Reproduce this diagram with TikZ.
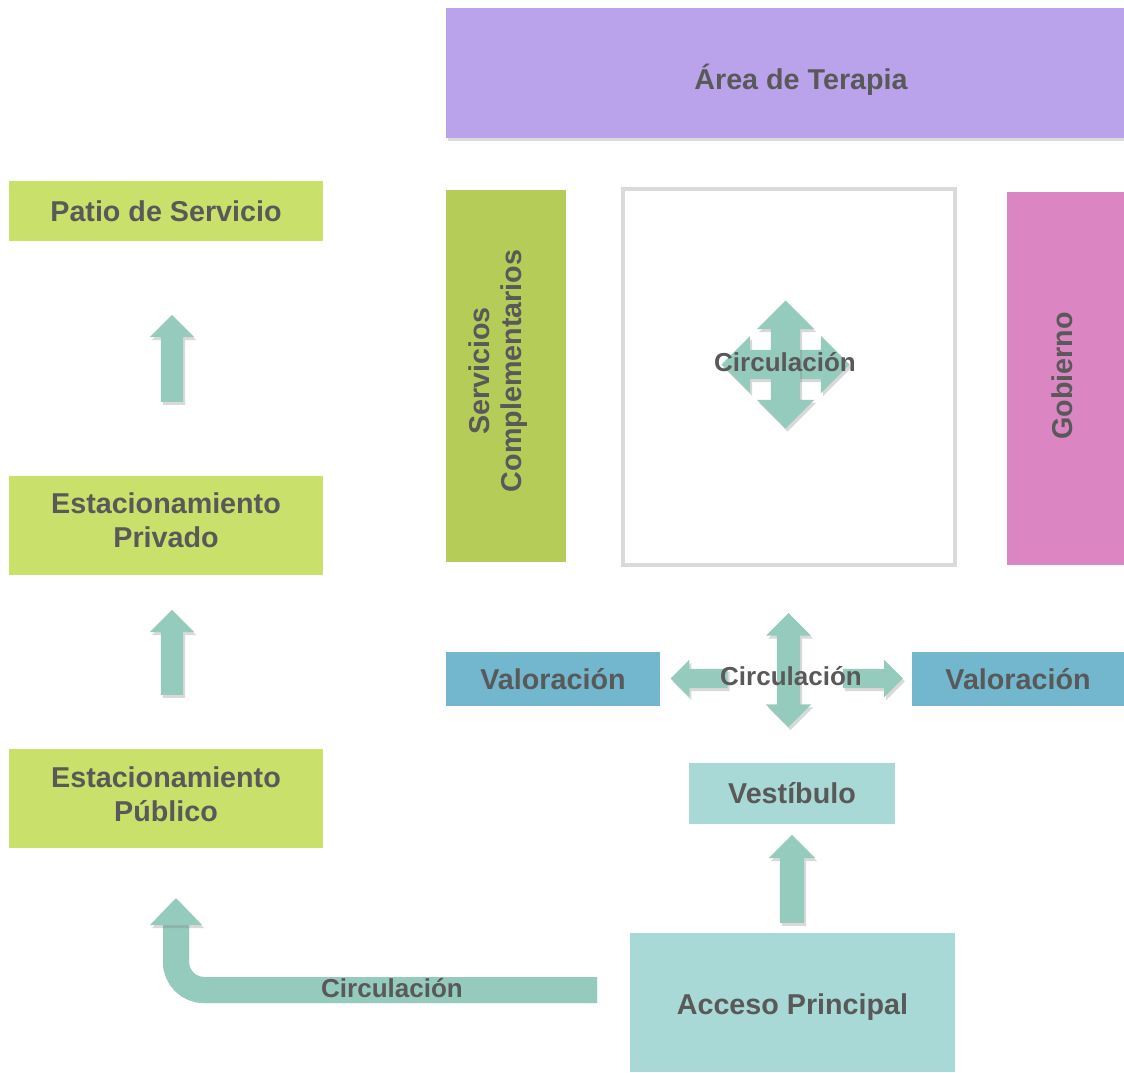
\documentclass[tikz,border=0pt]{standalone}
\usepackage{fontspec}
\setmainfont{Liberation Sans}
\usetikzlibrary{shapes.arrows}
\usetikzlibrary{shadows}
\definecolor{terapia}{HTML}{BBA3EC}
\definecolor{verdeclaro}{HTML}{C9E06B}
\definecolor{verdeoliva}{HTML}{B5CC58}
\definecolor{gobierno}{HTML}{DB86C2}
\definecolor{valoracion}{HTML}{72B7CE}
\definecolor{acceso}{HTML}{A8D9D6}
\definecolor{flechaverde}{HTML}{95CBBD}
\definecolor{textgris}{HTML}{595959}
\definecolor{bordegris}{HTML}{DADADA}
\tikzset{
  bloque/.style={rectangle, inner sep=0, outer sep=0, text=textgris, align=center,
    font=\fontsize{28.7}{34}\selectfont\bfseries},
  etiqueta/.style={text=textgris, inner sep=0, font=\fontsize{26}{30}\selectfont\bfseries},
  sombra/.style={drop shadow={opacity=0.3, shadow xshift=2pt, shadow yshift=-3pt}},
  flecha/.style 2 args={single arrow, fill=flechaverde, inner xsep=0, inner ysep=#1, outer sep=0,
    single arrow head extend=#2, sombra},
  dflecha/.style 2 args={double arrow, fill=flechaverde, inner xsep=0, inner ysep=#1, outer sep=0,
    double arrow head extend=#2, sombra}
}

\begin{document}
\begin{tikzpicture}[x=1pt, y=-1pt]
\useasboundingbox (0,0) rectangle (1124,1072);
  \node[bloque, fill=terapia, minimum width=678, minimum height=130, sombra] (terapia) at (785,73) {};
  \node[bloque] (tterapia) at (801,80) {Área de Terapia};
  \node[bloque, fill=verdeclaro, minimum width=314, minimum height=60] (patio) at (166,211) {Patio de Servicio};
  \node[bloque, fill=verdeclaro, minimum width=314, minimum height=99] (privado) at (166,525.5) {};
  \node[bloque] (tprivado) at (166,520.5) {Estacionamiento\\Privado};
  \node[bloque, fill=verdeclaro, minimum width=314, minimum height=99] (publico) at (166,798.5) {};
  \node[bloque] (tpublico) at (166,794) {Estacionamiento\\Público};
  \node[bloque, fill=verdeoliva, minimum width=120, minimum height=372] (servicios) at (506,376) {};
  \node[bloque, rotate=90, font=\fontsize{28.7}{32}\selectfont\bfseries] (tservicios) at (498,371) {Servicios\\Complementarios};
  \node[draw=bordegris, line width=4pt, fill=white, minimum width=332, minimum height=376] (circbox) at (789,377) {};
  \node[bloque, fill=gobierno, minimum width=117, minimum height=373] (gobierno) at (1065.5,378.5) {};
  \node[bloque, rotate=90] (tgobierno) at (1062,376) {Gobierno};
  \node[bloque, fill=valoracion, minimum width=214, minimum height=54] (valizq) at (553,679) {Valoración};
  \node[bloque, fill=valoracion, minimum width=212, minimum height=54] (valder) at (1018,679) {Valoración};
  \node[bloque, fill=acceso, minimum width=206, minimum height=61] (vestibulo) at (792,793.5) {Vestíbulo};
  \node[bloque, fill=acceso, minimum width=325, minimum height=139] (acceso) at (792.5,1002.5) {};
  \node[bloque] (tacceso) at (792.5,1007.5) {Acceso Principal};

  \node[flecha={11}{11}, minimum height=87, rotate=90] (fpatio) at (172,364) {};
  \node[flecha={11}{11}, minimum height=85, rotate=90] (fprivado) at (172,658) {};
  \node[flecha={12}{11}, minimum height=88, rotate=90] (fvestibulo) at (792,885) {};

  \node[dflecha={14.5}{14}, minimum height=128] (cruzh) at (785.5,364.5) {};
  \node[dflecha={14.5}{14}, minimum height=128, rotate=90] (cruzv) at (785.5,364.5) {};
  \node[etiqueta] (tcirc) at (785,362) {Circulación};

  \node[dflecha={11.5}{11}, minimum height=114, rotate=90] (valv) at (788.5,670) {};
  \node[flecha={9.5}{9}, minimum height=57, rotate=180] (vall) at (704,678.5) {};
  \node[flecha={9.5}{9}, minimum height=60] (valr) at (868,678.5) {};
  \node[etiqueta] (tval) at (791,676) {Circulación};

  \coordinate (cini) at (597,990);
  \coordinate (cfin) at (176,924);
  \draw[line width=26pt, black, opacity=0.2, rounded corners=28pt, xshift=2pt, yshift=-3pt] (cini) -| (cfin);
  \draw[line width=26pt, flechaverde, rounded corners=28pt] (cini) -| (cfin);
  \fill[flechaverde, sombra] (150,925) -- (202,925) -- (176,898) -- cycle;
  \node[etiqueta] (tbaja) at (392,988) {Circulación};
\end{tikzpicture}
\end{document}
